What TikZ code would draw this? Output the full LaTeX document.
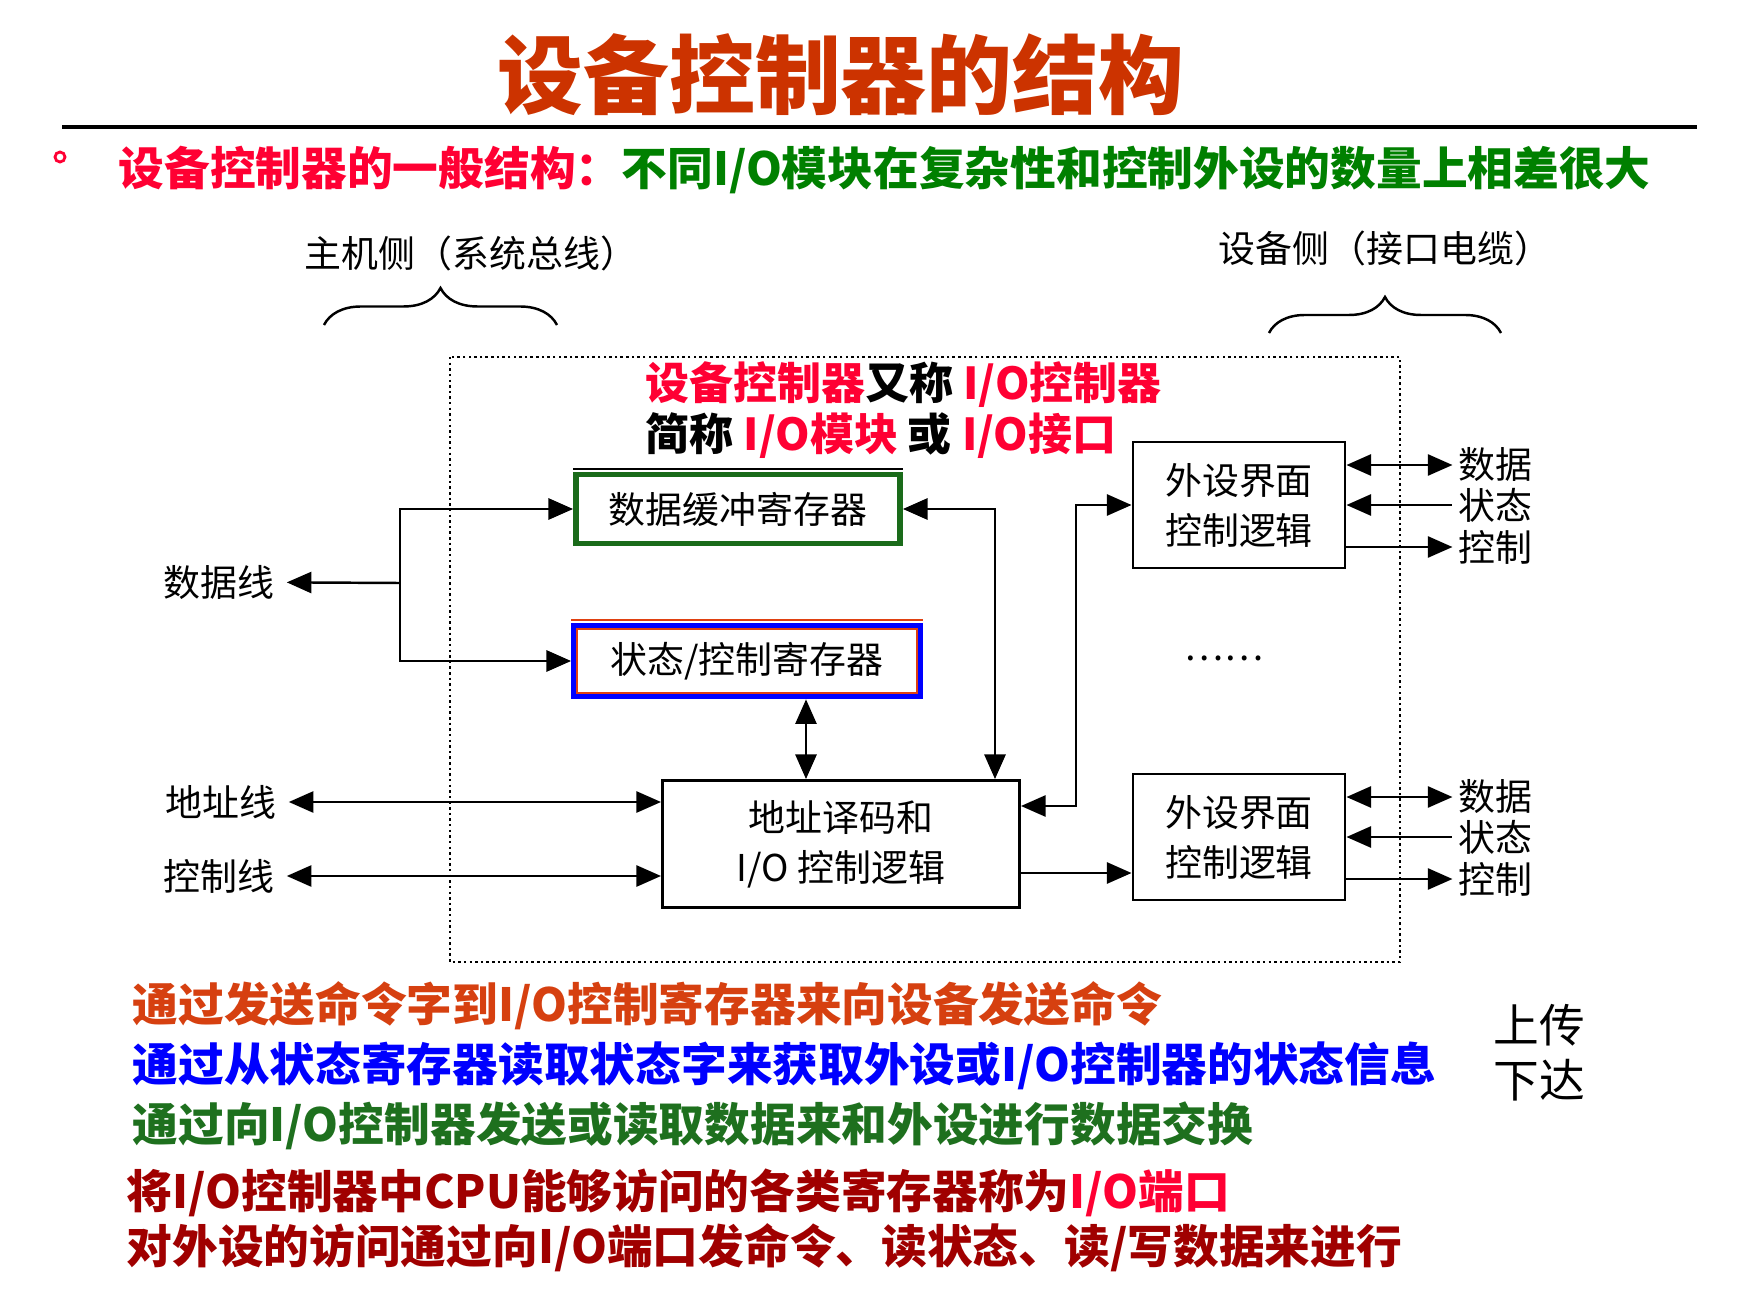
\documentclass[tikz,border=0pt]{standalone}
\usepackage{fontspec}
\setmainfont{Noto Sans CJK SC}
\usetikzlibrary{arrows.meta, positioning, calc, decorations.pathreplacing}
\definecolor{titlered}{RGB}{204,51,0}
\definecolor{brightred}{RGB}{255,0,51}
\definecolor{subgreen}{RGB}{0,128,0}
\definecolor{bufgreen}{RGB}{26,107,26}
\definecolor{regblue}{RGB}{0,0,255}
\definecolor{regred}{RGB}{224,64,16}
\definecolor{cmdorange}{RGB}{214,64,16}
\definecolor{xgreen}{RGB}{30,112,30}
\definecolor{portred}{RGB}{160,0,0}
\newcommand{\dgfont}{\fontsize{10.5pt}{14.2pt}\selectfont}
\newcommand{\notefont}{\fontsize{13pt}{15pt}\selectfont\bfseries}

\begin{document}
\begin{tikzpicture}[x=0.01cm, y=-0.01cm,
  >={Triangle[length=7pt, width=6pt]},
  box/.style={draw, line width=0.8pt, align=center, font=\dgfont, inner sep=2pt},
  sidelbl/.style={font=\dgfont, inner sep=1.5pt},
  wire/.style={line width=0.7pt},
  notes/.style={anchor=west, inner sep=0pt, font=\notefont}]

  \useasboundingbox (0,0) rectangle (1759,1309);
  \fill[white] (0,0) rectangle (1759,1309);

  % heading
  \node[font=\fontsize{24.4pt}{28pt}\selectfont\bfseries, text=titlered] (title)
    at (841,75) {设备控制器的结构};
  \draw[line width=1.2pt] (62,127) -- (1697,127);
  \draw[brightred, line width=0.8pt] (60,157) circle[radius=0.05cm];
  \node[anchor=west, inner sep=0pt, font=\fontsize{13pt}{15pt}\selectfont\bfseries] (sub)
    at (118,170) {\textcolor{brightred}{设备控制器的一般结构：}\textcolor{subgreen}{不同I/O模块在复杂性和控制外设的数量上相差很大}};

  % host side / device side
  \node[font=\dgfont] (hostlbl) at (471,253) {主机侧（系统总线）};
  \draw[wire, decorate, decoration={brace, amplitude=0.37cm}] (324,325) -- (557,325);
  \node[font=\dgfont] (devlbl) at (1385,248) {设备侧（接口电缆）};
  \draw[wire, decorate, decoration={brace, amplitude=0.36cm}] (1269,333) -- (1501,333);

  % controller frame
  \draw[line width=0.7pt, dash pattern=on 0.7pt off 0.9pt] (450,357) rectangle (1400,962);
  \node[anchor=west, inner sep=0pt, font=\fontsize{12.5pt}{15pt}\selectfont\bfseries] (alias1)
    at (645,385) {\textcolor{brightred}{设备控制器}又称 \textcolor{brightred}{I/O控制器}};
  \node[anchor=west, inner sep=0pt, font=\fontsize{12.5pt}{15pt}\selectfont\bfseries] (alias2)
    at (645,436) {简称 \textcolor{brightred}{I/O模块} 或 \textcolor{brightred}{I/O接口}};

  % registers
  \node[box, draw=bufgreen, line width=1.6pt, minimum width=3.24cm, minimum height=0.69cm] (databuf)
    at (738,509) {数据缓冲寄存器};
  \draw[line width=0.6pt] ([yshift=0.03cm]databuf.north west) -- ([yshift=0.03cm]databuf.north east);
  \node[box, draw=regblue, line width=1.6pt, minimum width=3.46cm, minimum height=0.71cm] (statreg)
    at (747,661) {状态/控制寄存器};
  \draw[regred, line width=0.6pt] ([shift={(6,-6)}]statreg.south west) rectangle ([shift={(-6,6)}]statreg.north east);
  \draw[regred, line width=0.6pt] ([yshift=0.03cm]statreg.north west) -- ([yshift=0.03cm]statreg.north east);

  % decoding logic and peripheral interfaces
  \node[box, minimum width=3.57cm, minimum height=1.27cm] (addr) at (841,844) {地址译码和\\I/O 控制逻辑};
  \foreach \b/\y in {pertop/505, perbot/837}
    \node[box, minimum width=2.12cm, minimum height=1.26cm] (\b) at (1239,\y) {外设界面\\控制逻辑};
  \node[font=\dgfont] (dots) at (1224,658) {……};

  % system bus lines
  \node[font=\dgfont] (datalbl) at (219,582) {数据线};
  \node[font=\dgfont] (addrlbl) at (221,802) {地址线};
  \node[font=\dgfont] (ctllbl) at (219,876) {控制线};
  \coordinate (jn) at (400,583);
  \draw[wire, ->] (jn) -- (datalbl);
  \draw[wire, ->] (jn) |- (databuf);
  \draw[wire, ->] (jn) |- (statreg);
  \draw[wire, <->] (addrlbl) -- (addrlbl -| addr.west);
  \draw[wire, <->] (ctllbl) -- (ctllbl -| addr.west);

  % internal paths
  \coordinate (vx) at (806,0);
  \draw[wire, <->] (statreg.south -| vx) -- (addr.north -| vx);
  \coordinate (bx) at (995,0);
  \draw[wire, <->] (databuf.east) -| (addr.north -| bx);
  \coordinate (rj) at (1076,806);
  \draw[wire, <->] (addr.east |- rj) -- (rj) |- (pertop.west);
  \coordinate (lo) at (0,873);
  \draw[wire, ->] (addr.east |- lo) -- (perbot.west |- lo);

  % interface cable lines
  \foreach \b in {pertop, perbot} {
    \node[sidelbl, anchor=west] (\b-d) at ($(\b.east)+(106,-40)$) {数据};
    \node[sidelbl, anchor=west] (\b-s) at ($(\b.east)+(106,0)$) {状态};
    \node[sidelbl, anchor=west] (\b-c) at ($(\b.east)+(106,42)$) {控制};
    \draw[wire, <->] (\b.east |- \b-d.west) -- (\b-d.west);
    \draw[wire, <-] (\b.east |- \b-s.west) -- (\b-s.west);
    \draw[wire, ->] (\b.east |- \b-c.west) -- (\b-c.west);
  }

  % notes
  \node[notes, text=cmdorange] (note1) at (132,1006) {通过发送命令字到I/O控制寄存器来向设备发送命令};
  \node[notes, text=regblue] (note2) at (132,1066) {通过从状态寄存器读取状态字来获取外设或I/O控制器的状态信息};
  \node[notes, text=xgreen] (note3) at (132,1126) {通过向I/O控制器发送或读取数据来和外设进行数据交换};
  \node[notes, text=portred] (note4) at (126,1193) {将I/O控制器中CPU能够访问的各类寄存器称为\textcolor{brightred}{I/O端口}};
  \node[notes, text=portred] (note5) at (126,1248) {对外设的访问通过向I/O端口发命令、读状态、读/写数据来进行};
  \node[font=\fontsize{13pt}{15.6pt}\selectfont, align=left] (updown) at (1539,1053) {上传\\下达};

\end{tikzpicture}
\end{document}
